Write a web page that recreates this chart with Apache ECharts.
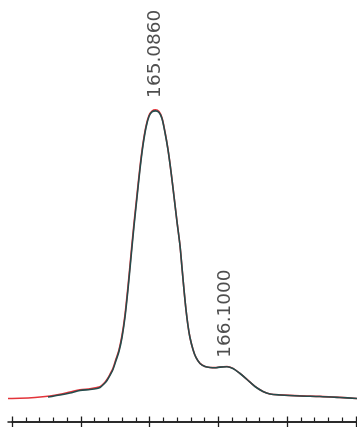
<!DOCTYPE html>
<html>
<head>
<meta charset="utf-8">
<script src="https://cdn.jsdelivr.net/npm/echarts@6/dist/echarts.min.js"></script>
<style>html,body{margin:0;padding:0;background:#fff;}#c{width:357px;height:429px;}</style>
</head>
<body>
<div id="c"></div>
<script>
// m/z values and intensities (relative, peak = 100)
var mzRed  = [162.942,163.116,163.334,163.552,163.698,163.843,163.988,164.134,164.235,164.279,164.337,164.381,164.424,164.468,164.512,164.555,164.599,164.642,164.686,164.730,164.773,164.817,164.860,164.904,164.948,164.991,165.035,165.086,165.137,165.180,165.224,165.267,165.311,165.355,165.398,165.442,165.471,165.500,165.529,165.558,165.587,165.631,165.674,165.733,165.805,165.878,165.965,166.023,166.125,166.212,166.314,166.416,166.532,166.648,166.750,166.895,167.186,167.477,167.767,168.015];
var intRed = [0.00,0.07,0.35,0.87,1.46,2.26,3.06,3.37,3.82,4.10,5.30,6.60,8.40,10.50,13.70,16.90,21.90,29.00,38.90,50.10,60.80,70.80,80.40,88.60,94.70,98.40,99.95,100.40,99.80,97.60,92.70,86.70,79.00,70.30,61.60,53.20,45.50,37.85,30.90,25.35,21.20,17.05,14.28,12.20,11.15,10.80,10.72,10.95,11.10,10.46,8.72,6.64,4.20,2.46,1.58,1.25,0.90,0.72,0.38,0.02];
var mzTeal  = [163.523,163.698,163.843,163.988,164.134,164.235,164.279,164.337,164.381,164.424,164.468,164.512,164.555,164.599,164.642,164.686,164.730,164.773,164.817,164.860,164.904,164.948,164.991,165.035,165.086,165.137,165.180,165.224,165.267,165.311,165.355,165.398,165.442,165.471,165.500,165.529,165.558,165.587,165.631,165.674,165.733,165.805,165.878,165.965,166.023,166.125,166.212,166.314,166.416,166.532,166.648,166.750,166.895,167.186,167.477,167.767,168.015];
var intTeal = [0.52,1.22,1.91,2.78,3.13,3.48,3.82,5.04,6.26,8.00,10.08,13.21,16.34,21.21,28.16,37.90,49.03,59.81,69.89,79.62,87.97,94.23,98.05,99.62,100.00,99.44,97.36,92.49,86.58,78.93,70.24,61.54,53.20,45.55,37.90,30.95,25.38,21.21,17.04,14.26,12.17,11.13,10.78,10.70,10.92,11.06,10.43,8.69,6.61,4.17,2.43,1.56,1.22,0.87,0.70,0.35,0.00];
var peakMz = [165.0860, 166.1000];
var peakInt = [100.0, 11.06];
var peakLabels = ['165.0860', '166.1000'];
var tickMin = 163, tickMax = 168;

function pairs(a, b){ var r=[]; for (var i=0;i<a.length;i++) r.push([a[i], b[i]]); return r; }

var chart = echarts.init(document.getElementById('c'), null, {renderer:'canvas'});
var axisColor = '#1e1e1e';
var peakData = peakMz.map(function(m,i){
  return {value:[m, peakInt[i]], label:{distance: i===0 ? 13 : 9, formatter: peakLabels[i]}};
});
chart.setOption({
  animation:false,
  backgroundColor:'#ffffff',
  grid:[
    {left:8, right:0, top:96.5, bottom:7.5},
    {left:12, right:1, top:96.5, bottom:7.5},
    {left:12, right:1, top:96.5, bottom:7.5},
    {left:8, right:0, top:96.5, bottom:7.5}
  ],
  xAxis:[
    {type:'value', gridIndex:0, min:162.942, max:168.015, show:false},
    {type:'value', gridIndex:1, min:tickMin, max:tickMax, interval:1,
     axisLine:{show:true, onZero:false, lineStyle:{color:axisColor, width:1.5}},
     axisTick:{show:true, inside:true, length:5, lineStyle:{color:axisColor, width:1.3}},
     minorTick:{show:true, splitNumber:5, length:4, lineStyle:{color:axisColor, width:1.2}},
     axisLabel:{show:false}, splitLine:{show:false}, minorSplitLine:{show:false}},
    {type:'value', gridIndex:2, min:tickMin, max:tickMax, interval:1,
     axisLine:{show:false, onZero:false},
     axisTick:{show:true, inside:false, length:5.5, lineStyle:{color:axisColor, width:1.3}},
     axisLabel:{show:false}, splitLine:{show:false}},
    {type:'value', gridIndex:3, min:0, max:1,
     axisLine:{show:true, onZero:false, lineStyle:{color:axisColor, width:1.5}},
     axisTick:{show:false}, axisLabel:{show:false}, splitLine:{show:false}}
  ],
  yAxis:[
    {type:'value', gridIndex:0, min:-8, max:105, show:false},
    {type:'value', gridIndex:1, min:0, max:1, show:false},
    {type:'value', gridIndex:2, min:0, max:1, show:false},
    {type:'value', gridIndex:3, min:0, max:1, show:false}
  ],
  series:[
    {type:'line', xAxisIndex:0, yAxisIndex:0, data:pairs(mzRed,intRed), showSymbol:false, symbol:'none', smooth:0.3, clip:false,
     lineStyle:{color:'#e3343a', width:1.6}},
    {type:'line', xAxisIndex:0, yAxisIndex:0, data:pairs(mzTeal,intTeal), showSymbol:false, symbol:'none', smooth:0.3, clip:false,
     lineStyle:{color:'#254c4c', width:1.6}},
    {type:'scatter', xAxisIndex:0, yAxisIndex:0, data:peakData, symbolSize:0, silent:true,
     label:{show:true, position:'top', rotate:90, align:'left', verticalAlign:'middle',
            fontFamily:'DejaVu Sans', fontSize:18.5, color:'#222222'}}
  ]
});
</script>
</body>
</html>
